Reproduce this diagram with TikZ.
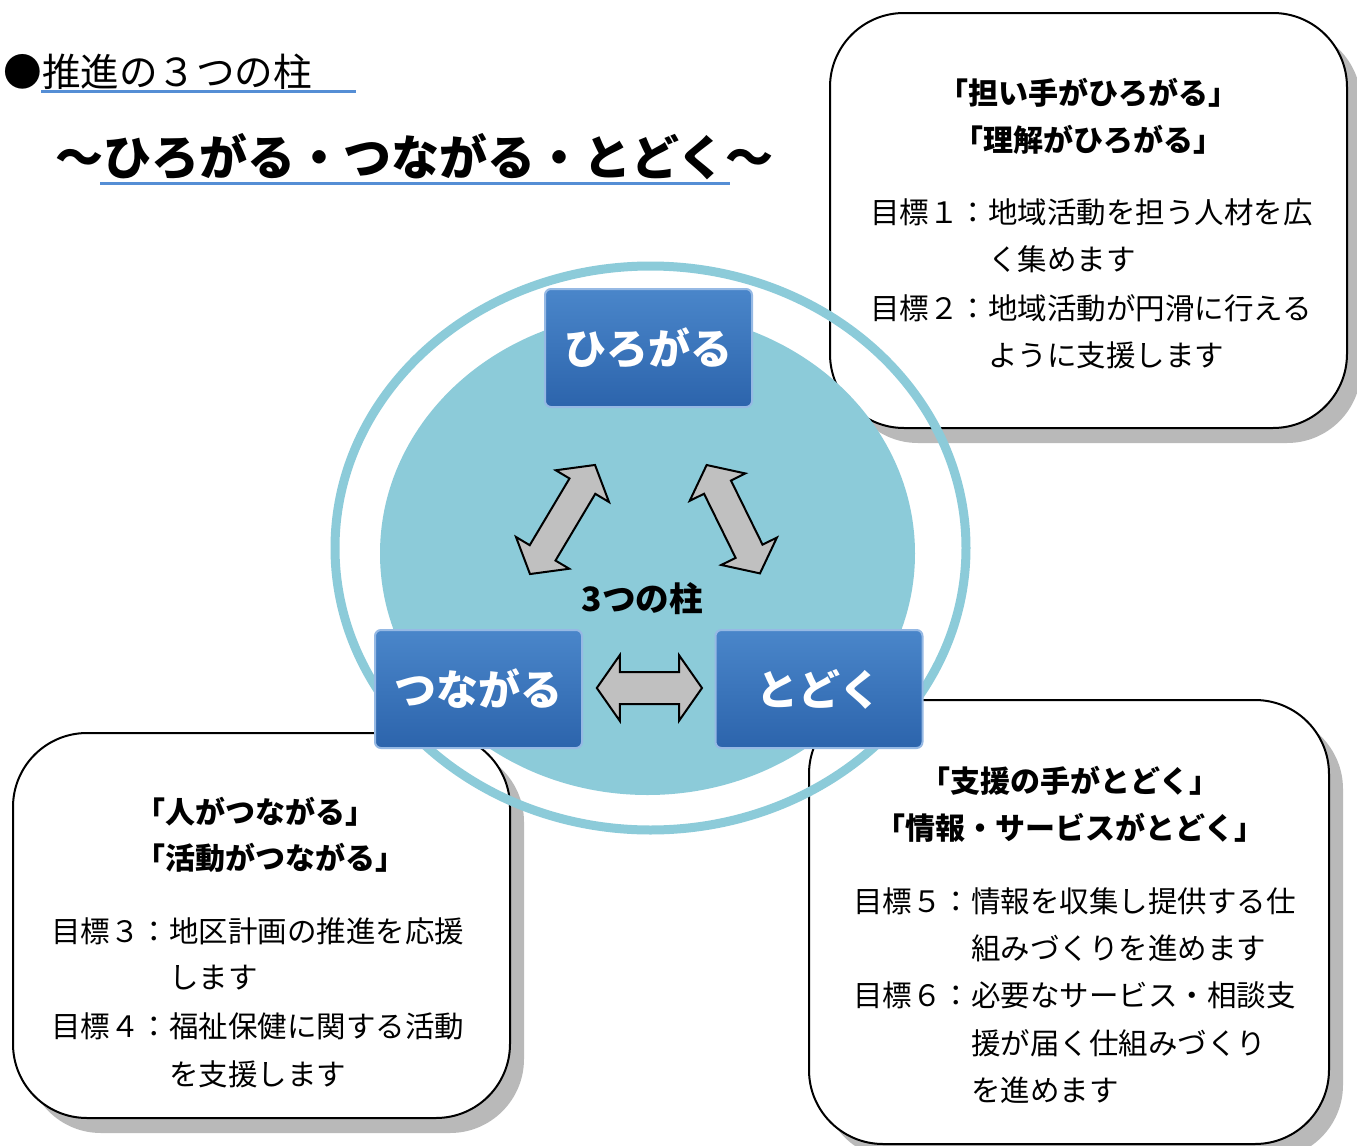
\documentclass[tikz,border=0pt]{standalone}
\usepackage{fontspec}
\setmainfont{Noto Sans CJK JP}
\usetikzlibrary{shapes.geometric,shapes.arrows,shadows}
\definecolor{ringc}{RGB}{140,203,217}
\definecolor{boxtop}{RGB}{74,134,202}
\definecolor{boxbot}{RGB}{44,100,172}
\definecolor{boxedge}{RGB}{150,185,228}
\definecolor{ulblue}{RGB}{85,142,213}
\definecolor{arrowgray}{RGB}{192,192,192}
\definecolor{shadowgray}{RGB}{185,185,185}
\begin{document}
\begin{tikzpicture}[x=0.5pt,y=-0.5pt,
  card/.style={draw=black, line width=1pt, fill=white, rounded corners=37pt, inner sep=0pt,
    drop shadow={shadow xshift=7pt, shadow yshift=-7.5pt, fill=shadowgray, opacity=1}},
  head/.style={font=\fontsize{15pt}{18pt}\selectfont\bfseries, inner sep=0pt},
  body/.style={font=\fontsize{14.75pt}{18pt}\selectfont, inner sep=0pt, anchor=west},
  pillar/.style={rectangle, rounded corners=3pt, top color=boxtop, bottom color=boxbot,
    draw=boxedge, line width=1pt, minimum width=103.5pt, minimum height=59pt, inner sep=0pt,
    text=white, font=\fontsize{21pt}{24pt}\selectfont\bfseries},
  dbl/.style={double arrow, draw=black, line width=1pt, fill=arrowgray, inner sep=0pt,
    inner ysep=7pt, double arrow head extend=8pt, double arrow tip angle=103},
  dblh/.style={double arrow, draw=black, line width=1pt, fill=arrowgray, inner sep=0pt,
    inner ysep=7.5pt, double arrow head extend=8.4pt, double arrow tip angle=110},
  uline/.style={ulblue, line width=1.5pt}
]
\useasboundingbox[fill=white] (0,0) rectangle (1357,1146);

% title
\node[anchor=west, inner sep=0pt, font=\fontsize{19.3pt}{22pt}\selectfont] (title) at (3,72) {●推進の３つの柱};
\coordinate (u1a) at (41,91.5);
\coordinate (u1b) at (356,91.5);
\draw[uline] (u1a) -- (u1b);
\node[anchor=west, inner sep=0pt, font=\fontsize{24pt}{28pt}\selectfont\bfseries] (subtitle) at (55,157) {〜ひろがる・つながる・とどく〜};
\coordinate (u2a) at (100,183);
\coordinate (u2b) at (730,183);
\draw[uline] (u2a) -- (u2b);

% cards
\node[card, minimum width=258.5pt, minimum height=207.5pt] (trbox) at (1088.5,220.5) {};
\node[card, minimum width=248.5pt, minimum height=192.5pt] (blbox) at (261.5,925.5) {};
\node[card, minimum width=260pt, minimum height=222pt] (brbox) at (1069,922) {};

% circle
\node[ellipse, draw=ringc, line width=4.5pt, minimum width=315.5pt, minimum height=282pt, inner sep=0pt] (ring) at (650.5,548) {};
\node[ellipse, fill=ringc, minimum width=267.5pt, minimum height=241.5pt, inner sep=0pt] (disc) at (647.5,553.5) {};

% card texts
\node[head] (tr1) at (1088,93) {「担い手がひろがる」};
\node[head] (tr2) at (1088,140) {「理解がひろがる」};
\node[body] (tr3) at (870,212) {目標１：地域活動を担う人材を広};
\node[body] (tr4) at (988,259) {く集めます};
\node[body] (tr5) at (870,308) {目標２：地域活動が円滑に行える};
\node[body] (tr6) at (988,355) {ように支援します};

\node[head, anchor=west] (bl1) at (135,812) {「人がつながる」};
\node[head, anchor=west] (bl2) at (135,858) {「活動がつながる」};
\node[body] (bl3) at (51,931) {目標３：地区計画の推進を応援};
\node[body] (bl4) at (169,978) {します};
\node[body] (bl5) at (51,1026) {目標４：福祉保健に関する活動};
\node[body] (bl6) at (169,1074) {を支援します};

\node[head] (br1) at (1070,781) {「支援の手がとどく」};
\node[head] (br2) at (1070,828) {「情報・サービスがとどく」};
\node[body] (br3) at (853,901) {目標５：情報を収集し提供する仕};
\node[body] (br4) at (971,948) {組みづくりを進めます};
\node[body] (br5) at (853,995) {目標６：必要なサービス・相談支};
\node[body] (br6) at (971,1043) {援が届く仕組みづくり};
\node[body] (br7) at (971,1090) {を進めます};

% pillars
\node[pillar] (hiro) at (648.5,348) {ひろがる};
\node[pillar] (tsuna) at (478.5,689) {つながる};
\node[pillar] (todo) at (819,689) {とどく};

% arrows
\node[dbl, rotate=59.2, minimum height=63.5pt] (a1) at (562.5,519.5) {};
\node[dbl, rotate=-63.8, minimum height=60.4pt] (a2) at (733.3,519.2) {};
\node[dblh, minimum height=52.6pt] (a3) at (649.4,688) {};

\node[inner sep=0pt, font=\fontsize{16.8pt}{20pt}\selectfont\bfseries] (center) at (642.5,599) {3つの柱};
\end{tikzpicture}
\end{document}
